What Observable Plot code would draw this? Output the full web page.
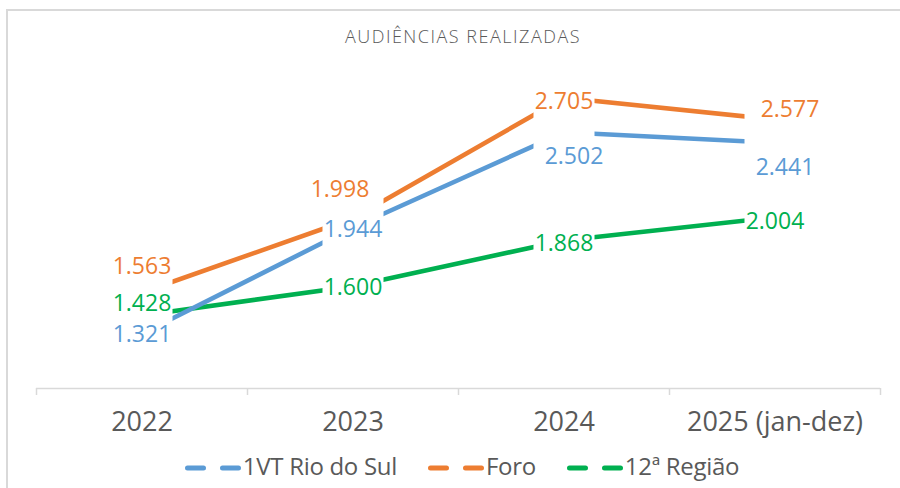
<!DOCTYPE html>
<html>
<head>
<meta charset="utf-8">
<script src="https://cdn.jsdelivr.net/npm/d3@7"></script>
<script src="https://cdn.jsdelivr.net/npm/@observablehq/plot@0.6"></script>
<style>
  html, body { margin: 0; padding: 0; background: #fff; }
  body { width: 900px; height: 488px; overflow: hidden; position: relative; font-family: "Open Sans", sans-serif; }
  #frame { position: absolute; left: 6px; top: 9px; width: 1000px; height: 1000px; border: 2px solid #d9d9d9; box-sizing: border-box; }
  #title { position: absolute; left: 0; top: 26px; width: 926px; text-align: center; font-size: 18px; font-weight: 300; line-height: 20px; color: #595959; letter-spacing: 1.5px; white-space: nowrap; }
  #chart { position: absolute; left: 0; top: 52px; }
  #legend { position: absolute; left: 0; top: 451px; width: 924px; height: 30px; display: flex; justify-content: center; align-items: center; font-size: 24px; line-height: 30px; color: #595959; letter-spacing: -0.3px; white-space: nowrap; }
  .item { display: flex; align-items: center; }
  .item + .item { margin-left: 31px; }
  .item svg { margin-right: 2px; position: relative; top: 2px; }
</style>
</head>
<body>
<div id="frame"></div>
<div id="title">AUDIÊNCIAS REALIZADAS</div>
<div id="chart"></div>
<div id="legend"></div>
<script>
// ---- data ----
const years = ["2022", "2023", "2024", "2025 (jan-dez)"];
const rioDoSul = [1321, 1944, 2502, 2441];
const foro = [1563, 1998, 2705, 2577];
const regiao = [1428, 1600, 1868, 2004];
const seriesNames = ["1VT Rio do Sul", "Foro", "12ª Região"];
const seriesColors = ["#5b9bd5", "#ed7d31", "#00b050"];
// label placement offsets (px) per series, per year
const rioOffsets = [[0, 0], [0, 1], [10, 23], [10, 24]];
const foroOffsets = [[0, -27], [-13, -30], [0, 3], [15, -11]];
const regiaoOffsets = [[0, -13], [0, 0], [0, 2], [0, 3]];

const seriesValues = [rioDoSul, foro, regiao];
const seriesOffsets = [rioOffsets, foroOffsets, regiaoOffsets];
const fmt = v => d3.format(",")(v).replace(/,/g, ".");

const table = seriesNames.flatMap((name, s) =>
  seriesValues[s].map((v, i) => ({
    series: name, color: seriesColors[s], year: years[i], pos: i + 0.5, value: v,
    dx: seriesOffsets[s][i][0], dy: seriesOffsets[s][i][1]
  }))
);

const drawOrder = [2, 0, 1]; // green, blue, orange
const lineMarks = drawOrder.map(s =>
  Plot.line(table.filter(d => d.series === seriesNames[s]), {
    x: "pos", y: "value", stroke: seriesColors[s], strokeWidth: 4.6, strokeLinecap: "butt"
  })
);

const labelMarks = table.map(d =>
  Plot.text([d], {
    x: "pos", y: "value", text: d => fmt(d.value), fill: d.color,
    fontSize: 23, dx: d.dx, dy: d.dy + 1, textAnchor: "middle", lineAnchor: "middle"
  })
);

const yMin = 1000, yMax = 2800;

const chart = Plot.plot({
  width: 900,
  height: 388,
  marginLeft: 36,
  marginRight: 20,
  marginTop: 29,
  marginBottom: 52,
  x: { domain: [0, years.length], label: null },
  y: { domain: [yMin, yMax], axis: null },
  style: { fontFamily: "Open Sans, sans-serif", background: "transparent", overflow: "visible" },
  marks: [
    ...lineMarks,
    // gaps around each data point
    Plot.ruleX(years.map((_, i) => i + 0.5), { stroke: "#fff", strokeWidth: 61 }),
    Plot.ruleY([yMin], { stroke: "#d9d9d9", strokeWidth: 1.5 }),
    Plot.axisX(d3.range(years.length + 1), { tickSize: 7, tickFormat: () => "", label: null, stroke: "#d9d9d9", strokeWidth: 1.5 }),
    Plot.text(years, { x: (d, i) => i + 0.5, y: () => yMin, dy: 34, fontSize: 27, fill: "#595959", lineAnchor: "middle" }),
    ...labelMarks
  ]
});
document.getElementById("chart").appendChild(chart);

// legend
const legend = d3.select("#legend");
seriesNames.forEach((name, s) => {
  const item = legend.append("div").attr("class", "item");
  const sw = item.append("svg").attr("width", 56).attr("height", 8);
  sw.append("line")
    .attr("x1", 2.5).attr("x2", 53.5).attr("y1", 4).attr("y2", 4)
    .attr("stroke", seriesColors[s]).attr("stroke-width", 5)
    .attr("stroke-linecap", "round").attr("stroke-dasharray", "16 19");
  item.append("span").text(name);
});
</script>
</body>
</html>
